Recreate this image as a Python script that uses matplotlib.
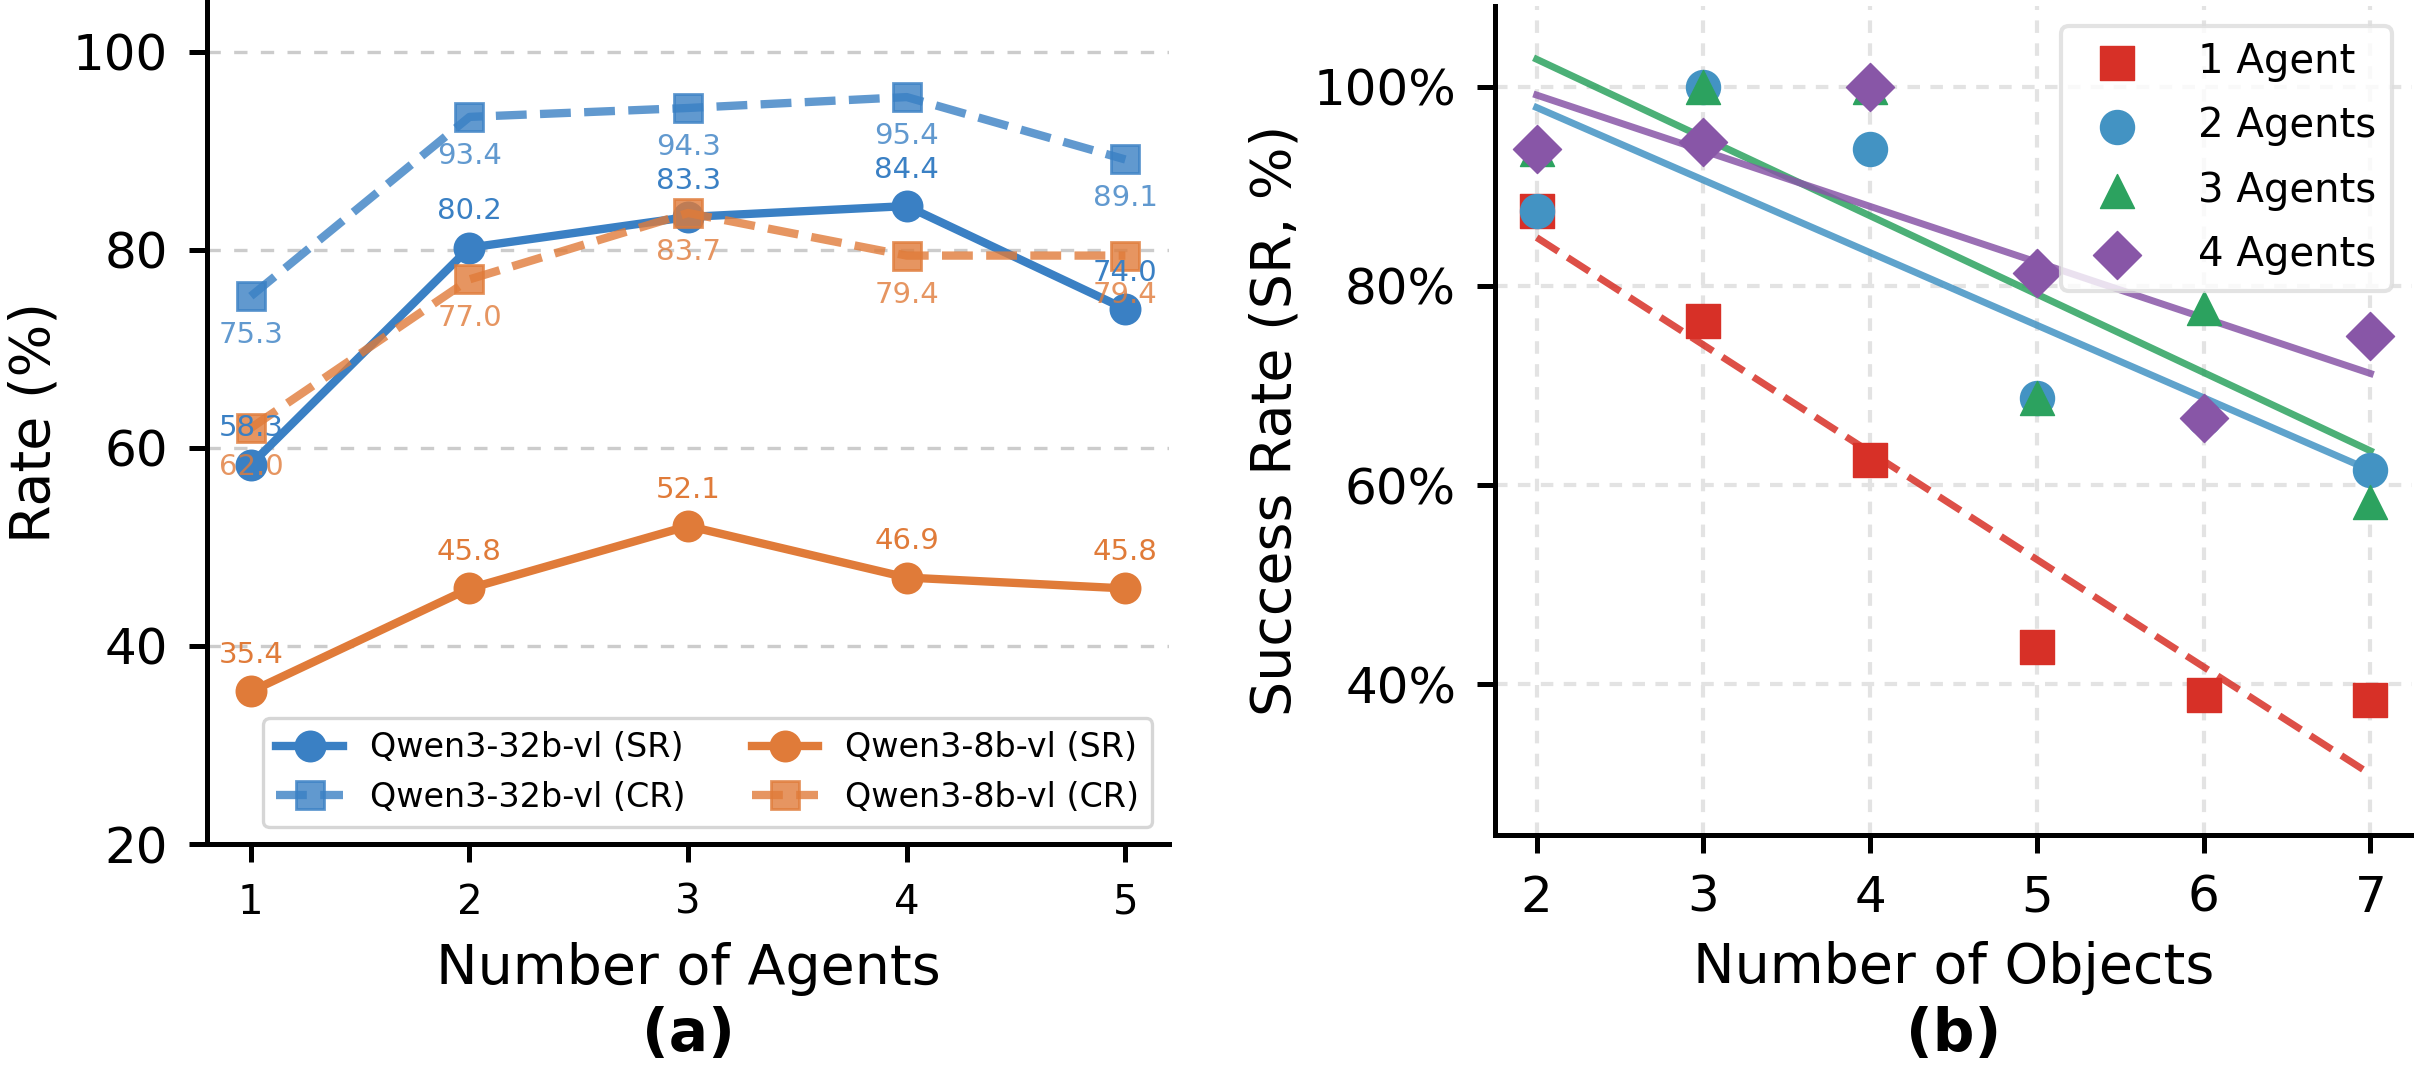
import matplotlib
matplotlib.use('Agg')
import matplotlib.pyplot as plt
import numpy as np
from matplotlib.ticker import MultipleLocator, FuncFormatter

# (a) rate vs number of agents
agents = [1, 2, 3, 4, 5]
sr_32b = [58.3, 80.2, 83.3, 84.4, 74.0]
cr_32b = [75.3, 93.4, 94.3, 95.4, 89.1]
sr_8b = [35.4, 45.8, 52.1, 46.9, 45.8]
cr_8b = [62.0, 77.0, 83.7, 79.4, 79.4]

# (b) success rate vs number of objects
objects = [2, 3, 4, 5, 6, 7]
sr_1agent = [87.5, 76.5, 62.5, 43.75, 38.9, 38.4]
sr_2agents = [87.5, 100.0, 93.75, 68.75, 66.7, 61.5]
sr_3agents = [93.75, 100.0, 100.0, 68.75, 77.8, 58.3]
sr_4agents = [93.75, 94.4, 100.0, 81.25, 66.7, 75.0]

c32 = '#3A80C4'
c8 = '#E07B39'

fig = plt.figure(figsize=(12.07, 5.4), dpi=200)
ax1 = fig.add_axes([0.0858, 0.2185, 0.3985, 0.7815])
ax2 = fig.add_axes([0.6193, 0.2269, 0.3799, 0.7676])

def style_axes(ax, xsize, ysize):
    for s in ['top', 'right']:
        ax.spines[s].set_visible(False)
    for s in ['left', 'bottom']:
        ax.spines[s].set_linewidth(1.8)
    ax.tick_params(axis='both', length=6.5, width=1.8, pad=7.5)
    ax.tick_params(axis='x', labelsize=xsize)
    ax.tick_params(axis='y', labelsize=ysize)
    ax.set_axisbelow(True)

# ---- left panel ----
l1, = ax1.plot(agents, sr_32b, '-o', color=c32, lw=3, ms=10.5, label='Qwen3-32b-vl (SR)')
l2, = ax1.plot(agents, cr_32b, '--s', color=c32, lw=3, ms=10, alpha=0.8, label='Qwen3-32b-vl (CR)')
l3, = ax1.plot(agents, sr_8b, '-o', color=c8, lw=3, ms=10.5, label='Qwen3-8b-vl (SR)')
l4, = ax1.plot(agents, cr_8b, '--s', color=c8, lw=3, ms=10, alpha=0.8, label='Qwen3-8b-vl (CR)')

for vals, col, above, a in [(sr_32b, c32, True, 1.0), (cr_32b, c32, False, 0.8),
                            (sr_8b, c8, True, 1.0), (cr_8b, c8, False, 0.8)]:
    for x, v in zip(agents, vals):
        if above:
            ax1.annotate(f'{v:.1f}', (x, v), xytext=(0, 8), textcoords='offset points',
                         ha='center', va='bottom', fontsize=10.5, color=col, alpha=a)
        else:
            ax1.annotate(f'{v:.1f}', (x, v), xytext=(0, -9), textcoords='offset points',
                         ha='center', va='top', fontsize=10.5, color=col, alpha=a)

ax1.set_xlim(0.8, 5.2)
ax1.set_ylim(20, 105.2)
ax1.set_xticks(agents)
ax1.yaxis.set_major_locator(MultipleLocator(20))
ax1.yaxis.grid(True, linestyle=(0, (4, 4)), color='#cccccc', lw=1.2)
style_axes(ax1, 14.5, 18)
ax1.set_xlabel('Number of Agents', fontsize=20, labelpad=7)
ax1.set_ylabel('Rate (%)', fontsize=20)
leg1 = ax1.legend(handles=[l1, l2, l3, l4], ncol=2, loc='lower right', fontsize=12)
leg1.get_frame().set_edgecolor('#cccccc')
leg1.get_frame().set_linewidth(1.2)

# ---- right panel ----
series = [(sr_1agent, '#D73027', 's', '1 Agent', '--'),
          (sr_2agents, '#4393C3', 'o', '2 Agents', '-'),
          (sr_3agents, '#2CA25F', '^', '3 Agents', '-'),
          (sr_4agents, '#8856A7', 'D', '4 Agents', '-')]

xo = np.array(objects, dtype=float)
for vals, col, mk, lab, ls in series:
    coef = np.polyfit(xo, vals, 1)
    ax2.plot(xo, np.polyval(coef, xo), linestyle=ls, color=col, lw=2.5, alpha=0.85, zorder=2)
for vals, col, mk, lab, ls in series:
    ax2.scatter(objects, vals, s=150, marker=mk, color=col, edgecolors=col,
                linewidths=0.5, label=lab, zorder=3)

ax2.set_xlim(1.75, 7.25)
ax2.set_ylim(24.9, 108.1)
ax2.set_xticks(objects)
ax2.yaxis.set_major_locator(MultipleLocator(20))
ax2.yaxis.set_major_formatter(FuncFormatter(lambda v, p: f'{v:.0f}%'))
ax2.grid(True, linestyle=(0, (3, 2.5)), color='#e3e3e3', lw=1.5)
style_axes(ax2, 18, 18)
ax2.set_xlabel('Number of Objects', fontsize=20, labelpad=7)
ax2.set_ylabel('Success Rate (SR, %)', fontsize=20)
leg2 = ax2.legend(loc='upper right', fontsize=14.5, labelspacing=0.6, handletextpad=1.0)
leg2.get_frame().set_edgecolor('#dddddd')
leg2.get_frame().set_linewidth(1.5)

fig.text(0.2851, 0.042, '(a)', fontsize=21, fontweight='bold', ha='center', va='center')
fig.text(0.8093, 0.042, '(b)', fontsize=21, fontweight='bold', ha='center', va='center')

fig.savefig('out.png', dpi=200)
